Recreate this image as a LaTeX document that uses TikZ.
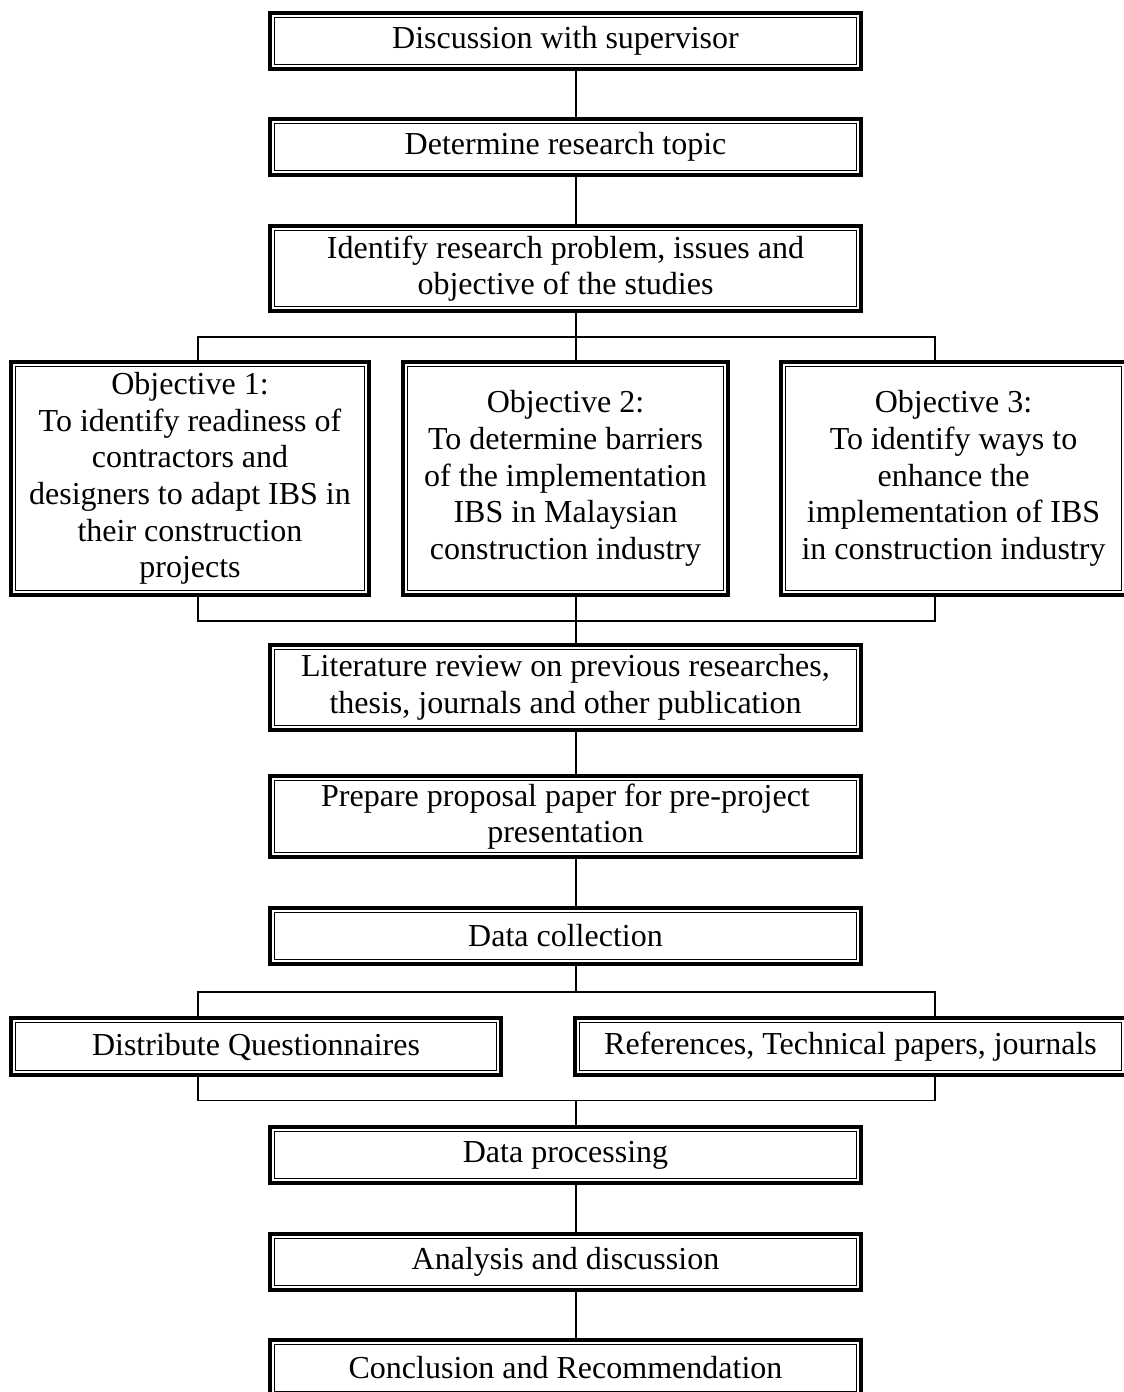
\documentclass[tikz,border=0pt]{standalone}
\usepackage{fontspec}
\setmainfont{Liberation Serif}
\begin{document}
\begin{tikzpicture}[x=1pt,y=-1pt,
  box/.style={draw, line width=4pt, inner sep=0pt, outer sep=0pt, align=center,
    font=\fontsize{32}{36.7}\selectfont},
  innerline/.style={line width=1.3pt},
  conn/.style={line width=1.4pt}]
\useasboundingbox (0,0) rectangle (1124,1392);
% main column boxes
\node[box, minimum width=591pt, minimum height=56pt] (b1) at (565.5,41) {Discussion with supervisor};
\node[box, minimum width=591pt, minimum height=56pt] (b2) at (565.5,147) {Determine research topic};
\node[box, minimum width=591pt, minimum height=85pt] (b3) at (565.5,268.5) {Identify research problem, issues and\\objective of the studies};
% objectives
\node[box, minimum width=358pt, minimum height=233pt] (o1) at (190,478.5) {Objective 1:\\To identify readiness of\\contractors and\\designers to adapt IBS in\\their construction\\projects};
\node[box, minimum width=325pt, minimum height=233pt] (o2) at (565.5,478.5) {Objective 2:\\To determine barriers\\of the implementation\\IBS in Malaysian\\construction industry};
\node[box, minimum width=345pt, minimum height=233pt] (o3) at (953.5,478.5) {Objective 3:\\To identify ways to\\enhance the\\implementation of IBS\\in construction industry};
\node[box, minimum width=591pt, minimum height=85pt] (lit) at (565.5,687.5) {Literature review on previous researches,\\thesis, journals and other publication};
\node[box, minimum width=591pt, minimum height=81pt] (prep) at (565.5,816.5) {Prepare proposal paper for pre-project\\presentation};
\node[box, minimum width=591pt, minimum height=56pt] (dc) at (565.5,936) {Data collection};
\node[box, minimum width=490pt, minimum height=57pt] (dq) at (256,1046.5) {Distribute Questionnaires};
\node[box, minimum width=551pt, minimum height=57pt] (ref) at (850.5,1046.5) {References, Technical papers, journals};
\node[box, minimum width=591pt, minimum height=56pt] (dp) at (565.5,1155) {Data processing};
\node[box, minimum width=591pt, minimum height=56pt] (ad) at (565.5,1262) {Analysis and discussion};
\node[box, minimum width=591pt, minimum height=56pt] (cr) at (565.5,1368) {Conclusion and Recommendation};
% inner thin frames
\foreach \n in {b1,b2,b3,o1,o2,o3,lit,prep,dc,dq,ref,dp,ad,cr}
  \draw[innerline] ([xshift=4.5pt,yshift=4.5pt]\n.south west) rectangle ([xshift=-4.5pt,yshift=-4.5pt]\n.north east);
% connector coordinates
\coordinate (sp) at (576,0);
\coordinate (lb) at (198,0);
\coordinate (rb) at (935,0);
\coordinate (brA) at (576,337);
\coordinate (brB) at (576,621);
\coordinate (brC) at (576,992);
\coordinate (brD) at (576,1100.7);
% connectors
\draw[conn] (b1.south -| sp) -- (b2.north -| sp);
\draw[conn] (b2.south -| sp) -- (b3.north -| sp);
\draw[conn] (b3.south -| sp) -- (o2.north -| sp);
\draw[conn] (o1.north -| lb) -- (lb |- brA) -- (rb |- brA) -- (o3.north -| rb);
\draw[conn] (o1.south -| lb) -- (lb |- brB) -- (rb |- brB) -- (o3.south -| rb);
\draw[conn] (o2.south -| sp) -- (lit.north -| sp);
\draw[conn] (lit.south -| sp) -- (prep.north -| sp);
\draw[conn] (prep.south -| sp) -- (dc.north -| sp);
\draw[conn] (dc.south -| sp) -- (brC);
\draw[conn] (dq.north -| lb) -- (lb |- brC) -- (rb |- brC) -- (ref.north -| rb);
\draw[conn] (dq.south -| lb) -- (lb |- brD) -- (rb |- brD) -- (ref.south -| rb);
\draw[conn] (brD) -- (dp.north -| sp);
\draw[conn] (dp.south -| sp) -- (ad.north -| sp);
\draw[conn] (ad.south -| sp) -- (cr.north -| sp);
\end{tikzpicture}
\end{document}
